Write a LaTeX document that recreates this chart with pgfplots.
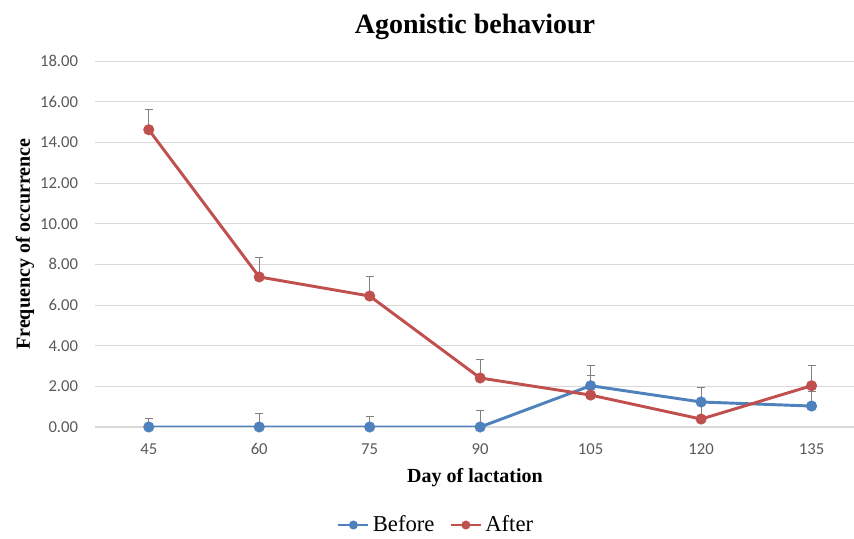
\documentclass[border=0pt]{standalone}
\usepackage{pgfplots}
\pgfplotsset{compat=1.18}
\usepackage{fontspec}
\setmainfont{Liberation Serif}
\newfontfamily\tickfont{Carlito}
\definecolor{bluel}{HTML}{4F81BD}
\definecolor{redl}{HTML}{C0504D}
\definecolor{gridc}{HTML}{D9D9D9}
\definecolor{tickc}{HTML}{595959}

\pgfplotstableread{
x y e
45 0.00 0.44
60 0.00 0.67
75 0.00 0.50
90 0.00 0.84
105 2.03 1.02
120 1.23 0.74
135 1.03 0.71
}\before
\pgfplotstableread{
x y e
45 14.62 0.98
60 7.38 0.98
75 6.44 0.99
90 2.41 0.93
105 1.57 0.95
120 0.39 1.00
135 2.03 1.02
}\after

\begin{document}
\begin{tikzpicture}
\begin{axis}[
  name=ax,
  scale only axis,
  width=570pt, height=274.5pt,
  xmin=37.7, xmax=140.9,
  ymin=0, ymax=18,
  xtick={45,60,75,90,105,120,135},
  ytick={0,2,...,18},
  axis x line*=bottom,
  axis y line*=left,
  x axis line style={draw=gridc, line width=0.8pt, -},
  y axis line style={draw=none},
  ymajorgrids,
  grid style={draw=gridc, line width=0.7pt},
  major tick length=0pt,
  tick label style={font=\tickfont\fontsize{12.5}{14}\selectfont, text=tickc, inner sep=0pt},
  /pgf/number format/assume math mode=true,
  yticklabel={\pgfmathprintnumber[fixed,fixed zerofill,precision=2]{\tick}},
  yticklabel style={anchor=east, xshift=-12.5pt},
  xticklabel style={anchor=center, yshift=-16.5pt},
  xlabel={\textbf{Day of lactation}},
  ylabel={\textbf{Frequency of occurrence}},
  label style={font=\fontsize{15}{17}\selectfont},
  xlabel style={at={(axis description cs:0.5,-0.1393)}, anchor=center},
  ylabel style={at={(axis description cs:-0.0921,0.5)}, anchor=center},
  title={\textbf{Agonistic behaviour}},
  title style={font=\fontsize{21}{24}\selectfont, at={(axis description cs:0.5,1.071)}, anchor=center},
  legend style={at={(0.449,-0.2678)}, anchor=center, draw=none, legend columns=2,
    font=\fontsize{17}{19}\selectfont, column sep=0pt, inner sep=0pt,
    nodes={inner sep=1.5pt},
    /tikz/every odd column/.append style={column sep=1pt},
    /tikz/every even column/.append style={column sep=10pt}},
  legend image code/.code={\draw[#1, line width=1.6pt] (0pt,0pt) -- (22.5pt,0pt); \fill[#1] (11.25pt,0pt) circle (2.2pt);},
]
\addplot[color=bluel, line width=2.2pt, mark=*, mark size=3pt,
  error bars/.cd, y dir=plus, y explicit,
  error bar style={draw=gray, line width=0.6pt},
  error mark options={draw=gray, rotate=90, mark size=3pt, line width=0.6pt}]
  table[x=x, y=y, y error=e] {\before};
\addlegendentry{Before}
\addplot[color=redl, line width=2.2pt, mark=*, mark size=3pt,
  error bars/.cd, y dir=plus, y explicit,
  error bar style={draw=gray, line width=0.6pt},
  error mark options={draw=gray, rotate=90, mark size=3pt, line width=0.6pt}]
  table[x=x, y=y, y error=e] {\after};
\addlegendentry{After}
\end{axis}
\pgfresetboundingbox
\path ([shift={(-71.25pt,-84pt)}]ax.south west) rectangle ([shift={(-0.75pt,45.75pt)}]ax.north east);
\end{tikzpicture}
\end{document}
